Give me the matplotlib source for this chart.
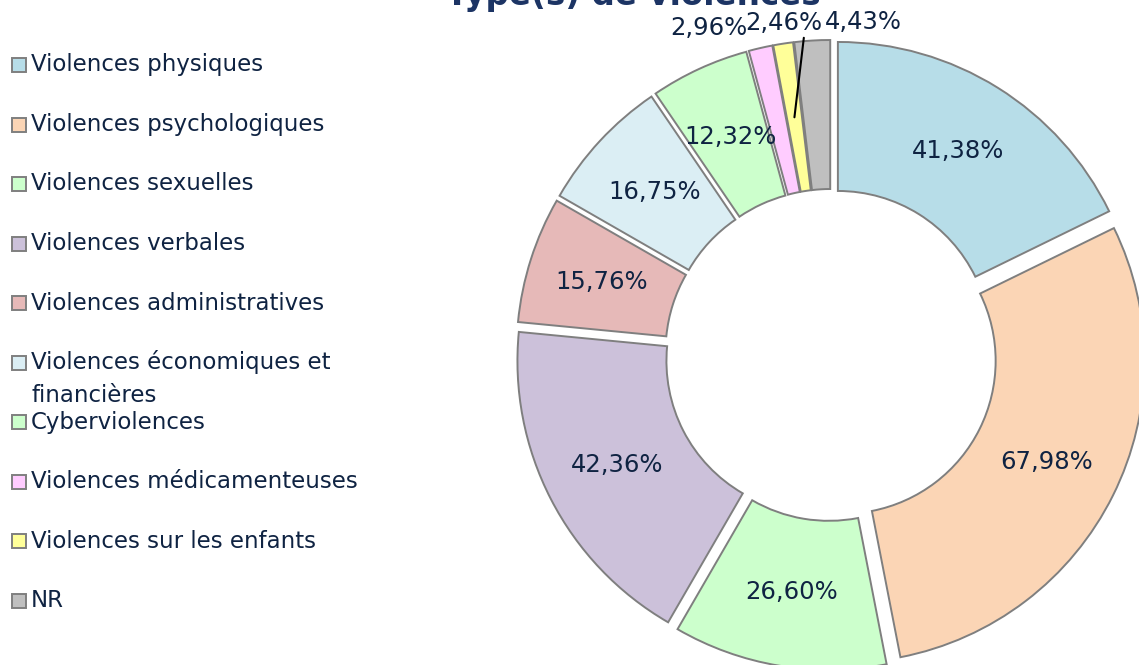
import numpy as np
import matplotlib.pyplot as plt
from matplotlib.patches import Rectangle

W, H = 1139, 665

categories = [
    "Violences physiques",
    "Violences psychologiques",
    "Violences sexuelles",
    "Violences verbales",
    "Violences administratives",
    "Violences économiques et\nfinancières",
    "Cyberviolences",
    "Violences médicamenteuses",
    "Violences sur les enfants",
    "NR",
]
values = [41.38, 67.98, 26.60, 42.36, 15.76, 16.75, 12.32, 2.96, 2.46, 4.43]
colors = ["#B7DDE8", "#FBD5B5", "#CCFFCC", "#CCC1DA", "#E6B9B8",
          "#DBEEF4", "#CCFFCC", "#FFCCFF", "#FFFF99", "#BFBFBF"]

title = "Type(s) de violences"
text_color = "#0F2342"
edge = "#7F7F7F"


def fmt(v):
    return f"{v:.2f}".replace(".", ",") + "%"


fig = plt.figure(figsize=(W / 100, H / 100), dpi=100)
ax = fig.add_axes([0, 0, 1, 1])

cx, cy = 831, H - 355
R, ring, expl = 302, 149, 13

wedges, _ = ax.pie(values, radius=R, center=(cx, cy), startangle=90,
                   counterclock=False, colors=colors,
                   wedgeprops=dict(width=ring, edgecolor=edge, linewidth=1.4))

# explode every slice by the same distance
for w in wedges:
    tm = np.deg2rad((w.theta1 + w.theta2) / 2)
    w.set_center((cx + expl * np.cos(tm), cy + expl * np.sin(tm)))

ax.set_xlim(0, W)
ax.set_ylim(0, H)
ax.set_aspect("equal")
ax.axis("off")

# percentage labels; the three thin slices have labels pulled above the ring
small_pos = {7: (-45, 28), 8: (5, 23), 9: (53, 22)}  # (x shift, px from top)
lab_size = 17.5
for i, (w, v) in enumerate(zip(wedges, values)):
    tm = np.deg2rad((w.theta1 + w.theta2) / 2)
    x0, y0 = w.center
    if i not in small_pos:
        r_lab = R - ring / 2
        ax.text(x0 + r_lab * np.cos(tm), y0 + r_lab * np.sin(tm), fmt(v),
                ha="center", va="center", fontsize=lab_size, color=text_color)
        continue
    dx, top = small_pos[i]
    tx = x0 + 330 * np.cos(tm) + dx
    ty = H - top
    if i == 8:
        r_mid = R - ring / 2
        ax.annotate(fmt(v), xy=(x0 + r_mid * np.cos(tm), y0 + r_mid * np.sin(tm)),
                    xytext=(tx, ty), ha="center", va="center",
                    fontsize=lab_size, color=text_color,
                    arrowprops=dict(arrowstyle="-", color="black", lw=1.5,
                                    relpos=(0.8, 1.0), shrinkA=0, shrinkB=0))
    else:
        ax.text(tx, ty, fmt(v), ha="center", va="center",
                fontsize=lab_size, color=text_color)

# title, mostly cut at the top as in the source
ax.text(633, H - 5, title, ha="center", va="baseline", fontsize=23.5,
        fontweight="bold", color="#1C3464")

# legend on the left
y_start, step = 65, 59.5
for i, (lab, col) in enumerate(zip(categories, colors)):
    y = H - (y_start + i * step)
    ax.add_patch(Rectangle((12, y - 7), 14, 14, facecolor=col,
                           edgecolor=edge, linewidth=1.4))
    for j, line in enumerate(lab.split("\n")):
        ax.text(31, y - j * 33, line, ha="left", va="center",
                fontsize=16.5, color=text_color)

fig.savefig("out.png", dpi=100)
